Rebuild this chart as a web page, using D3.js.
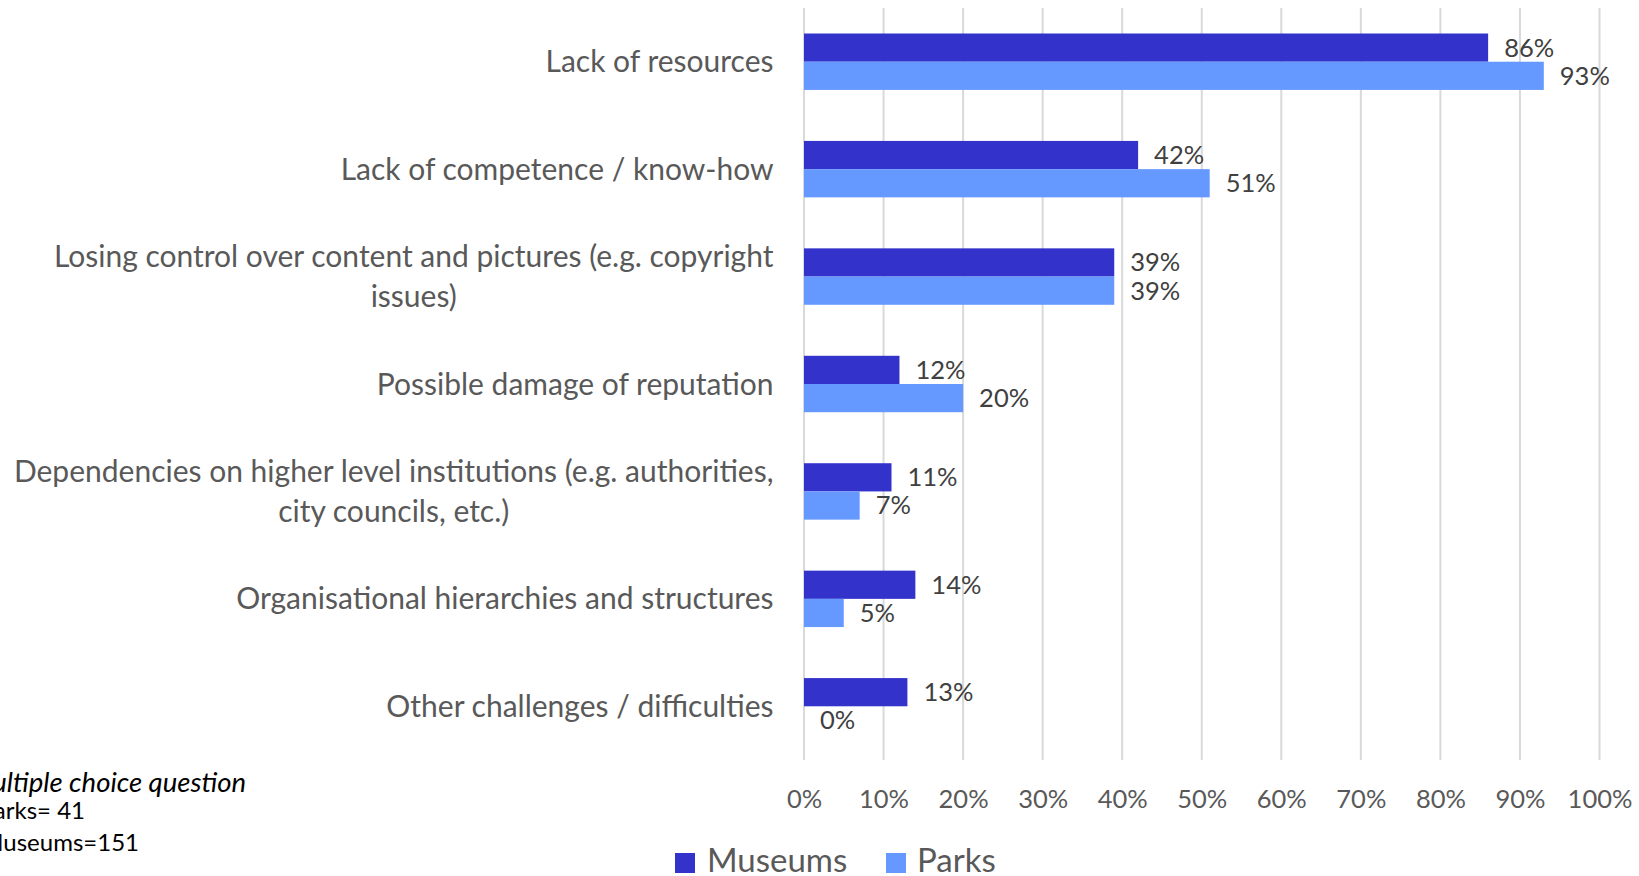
<!DOCTYPE html>
<html>
<head>
<meta charset="utf-8">
<script src="https://cdn.jsdelivr.net/npm/d3@7"></script>
<style>
  html, body { margin: 0; padding: 0; background: #fff; }
  svg { display: block; font-family: Lato, "Open Sans", sans-serif; }
</style>
</head>
<body>
<svg id="chart" width="1639" height="876"></svg>
<script>
// Challenges reported by museums and parks (share of respondents)
const categories = [
  "Lack of resources",
  "Lack of competence / know-how",
  "Losing control over content and pictures (e.g. copyright\nissues)",
  "Possible damage of reputation",
  "Dependencies on higher level institutions (e.g. authorities,\ncity councils, etc.)",
  "Organisational hierarchies and structures",
  "Other challenges / difficulties"
];
const seriesNames = ["Museums", "Parks"];
const museumsValues = [86, 42, 39, 12, 11, 14, 13];
const parksValues = [93, 51, 39, 20, 7, 5, 0];
const xTickValues = [0, 10, 20, 30, 40, 50, 60, 70, 80, 90, 100];
const noteLines = ["Multiple choice question", "Parks= 41", "Museums=151"];

const colors = { Museums: "#3333CC", Parks: "#6699FF" };

const svg = d3.select("#chart");
const plot = { left: 804, right: 1599.5, top: 8, bottom: 760 };

const x = d3.scaleLinear().domain([0, 100]).range([plot.left, plot.right]);
const y = d3.scaleBand().domain(categories).range([plot.top, plot.bottom]).padding(0);
const barH = y.bandwidth() * 0.2626;
const ySeries = d3.scaleBand().domain(seriesNames).range([0, 2 * barH]).padding(0);
const bandOffset = (y.bandwidth() - 2 * barH) / 2;

// vertical gridlines
svg.append("g")
  .selectAll("line")
  .data(xTickValues)
  .join("line")
  .attr("x1", d => x(d)).attr("x2", d => x(d))
  .attr("y1", plot.top).attr("y2", plot.bottom)
  .attr("stroke", "#D9D9D9")
  .attr("stroke-width", 2);

// x tick labels
const xAxis = d3.axisBottom(x).tickValues(xTickValues).tickFormat(d => d + "%").tickSize(0).tickPadding(0);
const gx = svg.append("g").attr("transform", `translate(0,${plot.bottom})`).call(xAxis);
gx.select(".domain").remove();
gx.selectAll("text")
  .attr("y", 39)
  .attr("dy", "0.35em")
  .attr("fill", "#595959")
  .style("font-size", "25.5px")
  .style("font-family", "Lato, sans-serif");

// grouped bars
const rows = categories.map((c, i) => ({
  category: c,
  values: [
    { series: "Museums", value: museumsValues[i] },
    { series: "Parks", value: parksValues[i] }
  ]
}));

const groups = svg.append("g")
  .selectAll("g")
  .data(rows)
  .join("g")
  .attr("transform", d => `translate(0,${y(d.category) + bandOffset})`);

groups.selectAll("rect")
  .data(d => d.values)
  .join("rect")
  .attr("x", x(0))
  .attr("y", d => ySeries(d.series))
  .attr("width", d => x(d.value) - x(0))
  .attr("height", ySeries.bandwidth())
  .attr("fill", d => colors[d.series]);

groups.selectAll("text")
  .data(d => d.values)
  .join("text")
  .attr("x", d => x(d.value) + 16)
  .attr("y", d => ySeries(d.series) + ySeries.bandwidth() / 2)
  .attr("dy", "0.35em")
  .attr("fill", "#404040")
  .style("font-size", "25.5px")
  .text(d => d.value + "%");

// category labels: block right-aligned, lines centred within the block
const labelRight = 773.5;
const lineGap = 40;
categories.forEach(c => {
  const lines = c.split("\n");
  const g = svg.append("g");
  const texts = lines.map((ln, k) => g.append("text")
    .attr("y", y(c) + y.bandwidth() / 2 + (k - (lines.length - 1) / 2) * lineGap)
    .attr("dy", "0.35em")
    .attr("text-anchor", "middle")
    .attr("fill", "#595959")
    .style("font-size", "30px")
    .text(ln));
  const maxW = d3.max(texts, t => t.node().getComputedTextLength());
  texts.forEach(t => t.attr("x", labelRight - maxW / 2));
});

// legend
const legend = svg.append("g");
const legendItems = [
  { name: "Museums", sx: 675, tx: 707 },
  { name: "Parks", sx: 886, tx: 917 }
];
legendItems.forEach(it => {
  legend.append("rect")
    .attr("x", it.sx).attr("y", 853)
    .attr("width", 20).attr("height", 20)
    .attr("fill", colors[it.name]);
  legend.append("text")
    .attr("x", it.tx).attr("y", 860)
    .attr("dy", "0.35em")
    .attr("fill", "#595959")
    .style("font-size", "33px")
    .text(it.name);
});

// sample notes (left edge runs off the canvas)
const notes = svg.append("g");
notes.append("text")
  .attr("x", 246).attr("y", 782).attr("dy", "0.35em")
  .attr("text-anchor", "end")
  .style("font-style", "italic")
  .style("font-size", "27.5px")
  .attr("fill", "#000")
  .text(noteLines[0]);
notes.append("text")
  .attr("x", 85).attr("y", 811).attr("dy", "0.35em")
  .attr("text-anchor", "end")
  .style("font-size", "24px")
  .attr("fill", "#000")
  .text(noteLines[1]);
notes.append("text")
  .attr("x", 139).attr("y", 843).attr("dy", "0.35em")
  .attr("text-anchor", "end")
  .style("font-size", "24px")
  .attr("fill", "#000")
  .text(noteLines[2]);
</script>
</body>
</html>
